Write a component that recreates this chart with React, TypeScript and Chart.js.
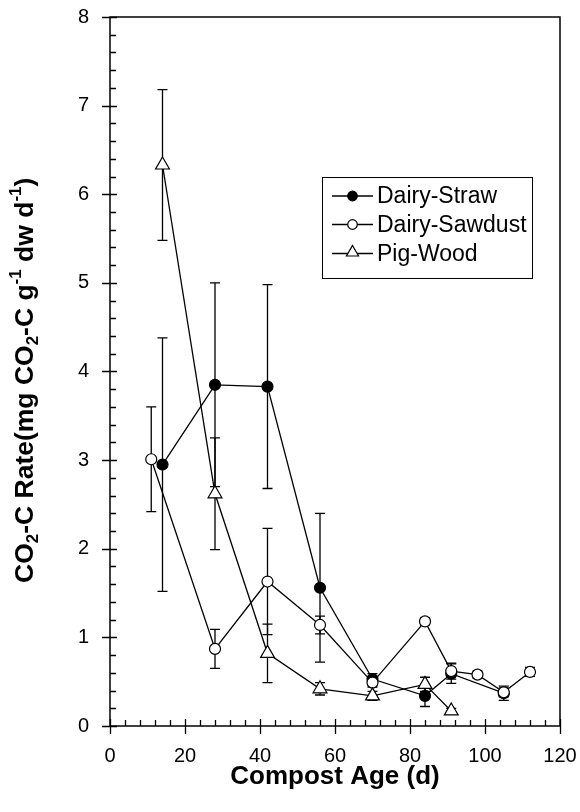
import React, { useEffect, useRef } from "react";
import { Chart, registerables } from "chart.js";

Chart.register(...registerables);

// ---------- data ----------
const xTickValues = [0, 20, 40, 60, 80, 100, 120];
const yTickValues = [0, 1, 2, 3, 4, 5, 6, 7, 8];
const xMinorStep = 4;
const yMinorStep = 0.2;

const strawDays = [14, 28, 42, 56, 70, 84, 91, 105];
const strawRate = [2.95, 3.85, 3.83, 1.56, 0.53, 0.34, 0.59, 0.37];
const strawErr = [1.43, 1.15, 1.15, 0.84, 0.06, 0.12, 0.11, 0.08];

const sawdustDays = [11, 28, 42, 56, 70, 84, 91, 98, 105, 112];
const sawdustRate = [3.01, 0.87, 1.63, 1.14, 0.49, 1.18, 0.62, 0.58, 0.38, 0.61];
const sawdustErr = [0.59, 0.22, 0.6, 0.1, 0.05, 0.04, 0.09, 0.04, 0.05, 0.05];

const pigDays = [14, 28, 42, 56, 70, 84, 91];
const pigRate = [6.33, 2.62, 0.82, 0.42, 0.34, 0.47, 0.17];
const pigErr = [0.85, 0.63, 0.33, 0.07, 0.05, 0.08, 0.03];

const seriesLabels = ["Dairy-Straw", "Dairy-Sawdust", "Pig-Wood"];
const xTitle = "Compost Age (d)";
// y title pieces: [text, kind] kind: n = normal, sub = subscript, sup = superscript
const yTitleParts: [string, string][] = [
  ["CO", "n"], ["2", "sub"], ["-C Rate(mg CO", "n"], ["2", "sub"],
  ["-C g", "n"], ["-1", "sup"], [" dw d", "n"], ["-1", "sup"], [")", "n"],
];

const FONT = '"Liberation Sans", Arial, Helvetica, sans-serif';

function drawMarker(ctx: CanvasRenderingContext2D, style: string, fill: string, r: number, x: number, y: number) {
  ctx.save();
  ctx.beginPath();
  if (style === "triangle") {
    ctx.moveTo(x, y - r);
    ctx.lineTo(x + r * Math.sin((2 * Math.PI) / 3), y - r * Math.cos((2 * Math.PI) / 3));
    ctx.lineTo(x + r * Math.sin((4 * Math.PI) / 3), y - r * Math.cos((4 * Math.PI) / 3));
    ctx.closePath();
  } else {
    ctx.arc(x, y, r, 0, Math.PI * 2);
  }
  ctx.fillStyle = fill;
  ctx.fill();
  ctx.lineWidth = 1.2;
  ctx.strokeStyle = "#000";
  ctx.stroke();
  ctx.restore();
}

const decorPlugin = {
  id: "decor",
  beforeDatasetsDraw(chart: any) {
    const ctx = chart.ctx as CanvasRenderingContext2D;
    const xs = chart.scales.x;
    const ys = chart.scales.y;
    ctx.save();
    ctx.strokeStyle = "#000";
    ctx.lineWidth = 1.3;
    chart.data.datasets.forEach((ds: any) => {
      const errs: number[] = ds.errors || [];
      ds.data.forEach((p: any, i: number) => {
        const e = errs[i];
        if (!e) return;
        const px = xs.getPixelForValue(p.x);
        const top = ys.getPixelForValue(p.y + e);
        const bot = ys.getPixelForValue(p.y - e);
        ctx.beginPath();
        ctx.moveTo(px, top);
        ctx.lineTo(px, bot);
        ctx.moveTo(px - 5, top);
        ctx.lineTo(px + 5, top);
        ctx.moveTo(px - 5, bot);
        ctx.lineTo(px + 5, bot);
        ctx.stroke();
      });
    });
    ctx.restore();
  },
  afterDraw(chart: any) {
    const ctx = chart.ctx as CanvasRenderingContext2D;
    const xs = chart.scales.x;
    const ys = chart.scales.y;
    const a = chart.chartArea;
    ctx.save();
    ctx.strokeStyle = "#000";
    ctx.lineWidth = 1.5;
    ctx.strokeRect(a.left, a.top, a.right - a.left, a.bottom - a.top);

    ctx.lineWidth = 1.3;
    ctx.beginPath();
    // y ticks
    for (let v = 0; v <= 8 + 1e-9; v += yMinorStep) {
      const y = Math.round(ys.getPixelForValue(v)) + 0.5;
      const major = Math.abs(v - Math.round(v)) < 1e-6;
      if (major) {
        ctx.moveTo(a.left - 8, y);
        ctx.lineTo(a.left + 7, y);
      } else {
        ctx.moveTo(a.left, y);
        ctx.lineTo(a.left + 6, y);
      }
    }
    // x ticks
    for (let v = 0; v <= 120 + 1e-9; v += xMinorStep) {
      const x = Math.round(xs.getPixelForValue(v)) + 0.5;
      const major = v % 20 === 0;
      if (major) {
        ctx.moveTo(x, a.bottom + 8);
        ctx.lineTo(x, a.bottom - 7);
      } else {
        ctx.moveTo(x, a.bottom);
        ctx.lineTo(x, a.bottom - 6);
      }
    }
    ctx.stroke();

    // x title
    ctx.fillStyle = "#000";
    ctx.font = `bold 26px ${FONT}`;
    ctx.textAlign = "center";
    ctx.textBaseline = "alphabetic";
    ctx.fillText(xTitle, (a.left + a.right) / 2, 784);

    // y title (rotated)
    ctx.save();
    ctx.translate(33, 583);
    ctx.rotate(-Math.PI / 2);
    ctx.textAlign = "left";
    let rx = 0;
    yTitleParts.forEach(([t, kind]) => {
      if (kind === "n") {
        ctx.font = `bold 26.5px ${FONT}`;
        ctx.fillText(t, rx, 0);
      } else if (kind === "sub") {
        ctx.font = `bold 17px ${FONT}`;
        ctx.fillText(t, rx, 5);
      } else {
        ctx.font = `bold 17px ${FONT}`;
        ctx.fillText(t, rx, -12);
      }
      rx += ctx.measureText(t).width;
    });
    ctx.restore();

    // legend
    const lx = 322.5, ly = 177.5, lw = 210, lh = 101;
    ctx.lineWidth = 1;
    ctx.strokeRect(lx, ly, lw, lh);
    const rows = [196, 224.5, 253.5];
    ctx.font = `23px ${FONT}`;
    ctx.textAlign = "left";
    ctx.textBaseline = "middle";
    chart.data.datasets.forEach((ds: any, i: number) => {
      const ry = rows[i];
      ctx.lineWidth = 1.3;
      ctx.beginPath();
      ctx.moveTo(332, ry);
      ctx.lineTo(373, ry);
      ctx.stroke();
      const isTri = ds.pointStyle === "triangle";
      drawMarker(ctx, ds.pointStyle, ds.pointBackgroundColor, isTri ? 7 : 4.8, 352.5, isTri ? ry - 1 : ry);
      ctx.fillStyle = "#000";
      ctx.fillText(ds.label, 377, ry + 1);
    });
    ctx.restore();
  },
};

const zeroPad = (s: any) => {
  s.paddingTop = 0;
  s.paddingBottom = 0;
  s.paddingLeft = 0;
  s.paddingRight = 0;
};

export default function App() {
  const ref = useRef<HTMLCanvasElement>(null);
  useEffect(() => {
    if (!ref.current) return;
    const mk = (days: number[], vals: number[]) => days.map((x, i) => ({ x, y: vals[i] }));
    const common = {
      borderColor: "#000",
      borderWidth: 1.3,
      pointBorderColor: "#000",
      pointBorderWidth: 1.2,
      tension: 0,
      fill: false,
    };
    const chart = new Chart(ref.current, {
      type: "line",
      data: {
        datasets: [
          { ...common, label: seriesLabels[0], data: mk(strawDays, strawRate), errors: strawErr, pointStyle: "circle", pointRadius: 5.5, pointBackgroundColor: "#000", order: 3 } as any,
          { ...common, label: seriesLabels[1], data: mk(sawdustDays, sawdustRate), errors: sawdustErr, pointStyle: "circle", pointRadius: 5.5, pointBackgroundColor: "#fff", order: 2 } as any,
          { ...common, label: seriesLabels[2], data: mk(pigDays, pigRate), errors: pigErr, pointStyle: "triangle", pointRadius: 8, pointBackgroundColor: "#fff", order: 1 } as any,
        ],
      },
      options: {
        responsive: false,
        animation: false,
        devicePixelRatio: 1,
        layout: { padding: { top: 17, right: 20, left: 0, bottom: 0 } },
        plugins: { legend: { display: false }, tooltip: { enabled: false } },
        scales: {
          x: {
            type: "linear",
            min: 0,
            max: 120,
            grid: { display: false, drawTicks: false },
            border: { display: false },
            afterBuildTicks: (s: any) => { s.ticks = xTickValues.map((v) => ({ value: v })); },
            afterFit: (s: any) => { s.height = 86; zeroPad(s); },
            ticks: { padding: 18, color: "#000", font: { family: FONT, size: 20 }, maxRotation: 0, autoSkip: false },
          },
          y: {
            type: "linear",
            min: 0,
            max: 8,
            grid: { display: false, drawTicks: false },
            border: { display: false },
            afterBuildTicks: (s: any) => { s.ticks = yTickValues.map((v) => ({ value: v })); },
            afterFit: (s: any) => { s.width = 110; zeroPad(s); },
            ticks: { padding: 21, color: "#000", font: { family: FONT, size: 20 }, autoSkip: false },
          },
        },
      } as any,
      plugins: [decorPlugin],
    });
    return () => chart.destroy();
  }, []);
  return (
    <div style={{ position: "absolute", left: 0, top: 0, width: 580, height: 812, background: "#fff" }}>
      <canvas ref={ref} width={580} height={812} style={{ display: "block" }} />
    </div>
  );
}
